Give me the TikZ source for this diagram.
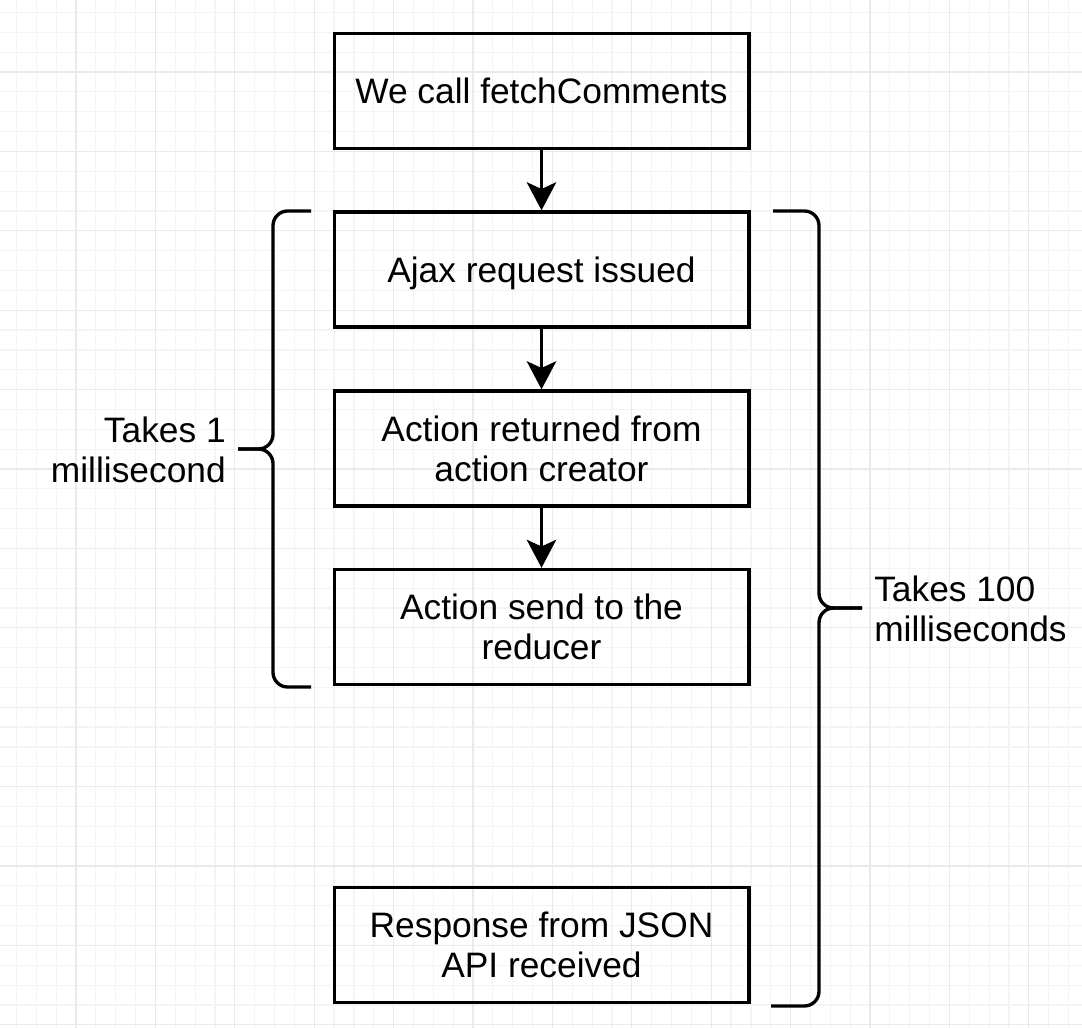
\documentclass[tikz,border=0pt]{standalone}
\usepackage{fontspec}
\setmainfont{Liberation Sans}
\usetikzlibrary{arrows.meta}
\definecolor{minorgrid}{HTML}{F4F4F7}
\definecolor{majorgrid}{HTML}{EAEAEE}
\tikzset{
  stepbox/.style={draw, line width=2.5pt, minimum width=311pt, minimum height=86.25pt,
    align=center, inner sep=0pt, text depth=0pt, font=\fontsize{26.5}{30}\selectfont},
  flow/.style={line width=2.6pt, -{Stealth[length=21pt, width=22pt, inset=5pt]}},
  bracket/.style={line width=2.5pt, rounded corners=11pt},
  note/.style={inner sep=0pt, font=\fontsize{26.5}{30}\selectfont}
}

\begin{document}
\begin{tikzpicture}[x=0.75pt, y=-0.75pt]
      \useasboundingbox (0,0) rectangle (1082,1028);
      \fill[white] (0,0) rectangle (1082,1028);

      % Draw the background grid
      \foreach \k in {0,...,53} \draw[minorgrid, line width=0.9pt] ({16.45+19.85*\k},0) -- ++(0,1028);
      \foreach \k in {0,...,51} \draw[minorgrid, line width=0.9pt] (0,{12.45+19.85*\k}) -- ++(1082,0);
      \foreach \k in {0,...,12} \draw[majorgrid, line width=0.9pt] ({76+79.4*\k},0) -- ++(0,1028);
      \foreach \k in {0,...,12} \draw[majorgrid, line width=0.9pt] (0,{72+79.4*\k}) -- ++(1082,0);

      % The steps
      \node[stepbox] (fetch) at (541.5,91) {We call fetchComments};
      \node[stepbox] (ajax) at (541.5,269.5) {Ajax request issued};
      \node[stepbox] (returned) at (541.5,448.5) {Action returned from\\action creator};
      \node[stepbox] (reducer) at (541.5,627) {Action send to the\\reducer};
      \node[stepbox] (json) at (541.5,945) {Response from JSON\\API received};

      % Arrows between the steps
      \draw[flow] (fetch) -- (ajax);
      \draw[flow] (ajax) -- (returned);
      \draw[flow] (returned) -- (reducer);

      % Left brace over the fast steps
      \draw[bracket] (311,211) -- (273,211) -- (273,449) -- (238,449);
      \draw[bracket] (238,449) -- (273,449) -- (273,687) -- (311,687);
      \node[note, anchor=east, align=right] (fast) at (226,449.5) {Takes 1\\millisecond};

      % Right brace over the whole request
      \draw[bracket] (773,211) -- (819,211) -- (819,608) -- (862,608);
      \draw[bracket] (862,608) -- (819,608) -- (819,1006) -- (771,1006);
      \node[note, anchor=west, align=left] (slow) at (874,609) {Takes 100\\milliseconds};
\end{tikzpicture}
\end{document}
